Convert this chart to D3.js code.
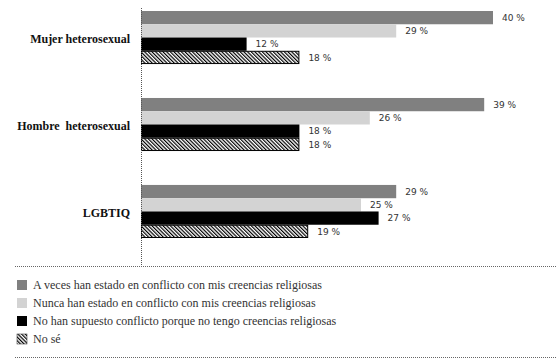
<!DOCTYPE html>
<html>
<head>
<meta charset="utf-8">
<script src="https://cdn.jsdelivr.net/npm/d3@7"></script>
<style>
  body { margin: 0; background: #fff; }
  svg { display: block; }
  .serif { font-family: 'Liberation Serif', 'DejaVu Serif', serif; }
</style>
</head>
<body>
<svg id="chart" width="557" height="362"></svg>
<script>
(function() {

  // categories (top to bottom)
  let categories = ['Mujer heterosexual', 'Hombre heterosexual', 'LGBTIQ'];

  // series, in drawing order inside each group
  let seriesNames = [
    'A veces han estado en conflicto con mis creencias religiosas',
    'Nunca han estado en conflicto con mis creencias religiosas',
    'No han supuesto conflicto porque no tengo creencias religiosas',
    'No sé'
  ];

  let aVeces = [40, 39, 29];
  let nunca = [29, 26, 25];
  let noCreencias = [12, 18, 27];
  let noSe = [18, 18, 19];

  let seriesValues = [aVeces, nunca, noCreencias, noSe];

  let svg = d3.select('#chart');
  let width = 557, height = 362;

  let defs = svg.append('defs');
  let hatch = defs.append('pattern')
    .attr('id', 'hatch')
    .attr('patternUnits', 'userSpaceOnUse')
    .attr('width', 2.6)
    .attr('height', 10)
    .attr('patternTransform', 'rotate(-45)');
  hatch.append('rect')
    .attr('width', 2.6).attr('height', 10)
    .attr('fill', '#fff');
  hatch.append('line')
    .attr('x1', 0.6).attr('x2', 0.6)
    .attr('y1', 0).attr('y2', 10)
    .attr('stroke', '#000')
    .attr('stroke-width', 1.2);

  let fills = ['#808080', '#d3d3d3', '#000000', 'url(#hatch)'];

  let xScale = d3.scaleLinear()
    .domain([0, 40])
    .range([141, 493]);

  let yScale = d3.scaleBand()
    .domain(categories)
    .range([11, 238])
    .paddingInner(0.39)
    .paddingOuter(0);

  let inner = d3.scaleBand()
    .domain(d3.range(seriesNames.length))
    .range([0, yScale.bandwidth()]);

  // bars
  let groups = svg.append('g').selectAll('g')
    .data(categories)
    .join('g')
      .attr('transform', (d) => `translate(0, ${yScale(d)})`);

  groups.each(function(cat, ci) {
    let g = d3.select(this);
    seriesValues.forEach((vals, si) => {
      let v = vals[ci];
      let y = inner(si);
      let h = inner.bandwidth();
      let rect = g.append('rect')
        .attr('x', xScale(0))
        .attr('y', y)
        .attr('width', xScale(v) - xScale(0))
        .attr('height', h)
        .attr('fill', fills[si]);
      if (si === 3) {
        rect.attr('x', xScale(0) + 0.5)
          .attr('y', y + 0.5)
          .attr('width', xScale(v) - xScale(0) - 1)
          .attr('height', h - 1)
          .attr('stroke', '#000')
          .attr('stroke-width', 1);
      }
      g.append('text')
        .attr('x', xScale(v) + 9)
        .attr('y', y + h / 2)
        .attr('dy', '0.35em')
        .attr('font-family', 'DejaVu Sans, sans-serif')
        .attr('font-size', '9px')
        .attr('fill', '#333')
        .text(`${v} %`);
    });
  });

  // category labels
  svg.append('g').selectAll('text')
    .data(categories)
    .join('text')
      .attr('class', 'serif')
      .attr('x', 130)
      .attr('y', (d) => yScale(d) + yScale.bandwidth() / 2 + 1)
      .attr('dy', '0.35em')
      .attr('text-anchor', 'end')
      .attr('font-weight', 'bold')
      .attr('font-size', '12px')
      .attr('fill', '#111')
      .attr('xml:space', 'preserve')
      .text((d) => d.replace('Hombre ', 'Hombre  '));

  // vertical axis line (dotted)
  svg.append('line')
    .attr('x1', 141.5).attr('x2', 141.5)
    .attr('y1', 8).attr('y2', 267)
    .attr('stroke', '#555')
    .attr('stroke-width', 1)
    .attr('stroke-dasharray', '1,1');

  // legend separators
  [266.5, 357.5].forEach((y) => {
    svg.append('line')
      .attr('x1', 15).attr('x2', width)
      .attr('y1', y).attr('y2', y)
      .attr('stroke', '#666')
      .attr('stroke-width', 1)
      .attr('stroke-dasharray', '1,1');
  });

  // legend
  let legend = svg.append('g').selectAll('g')
    .data(seriesNames)
    .join('g')
      .attr('transform', (d, i) => `translate(17, ${280 + i * 18})`);

  legend.append('rect')
    .attr('width', 10)
    .attr('height', 10)
    .attr('fill', (d, i) => fills[i])
    .attr('stroke', (d, i) => i === 3 ? '#444' : 'none')
    .attr('stroke-width', 0.6);

  legend.append('text')
    .attr('class', 'serif')
    .attr('x', 16)
    .attr('y', 5)
    .attr('dy', '0.35em')
    .attr('font-size', '12px')
    .attr('fill', '#333')
    .text((d) => d);

})();
</script>
</body>
</html>
